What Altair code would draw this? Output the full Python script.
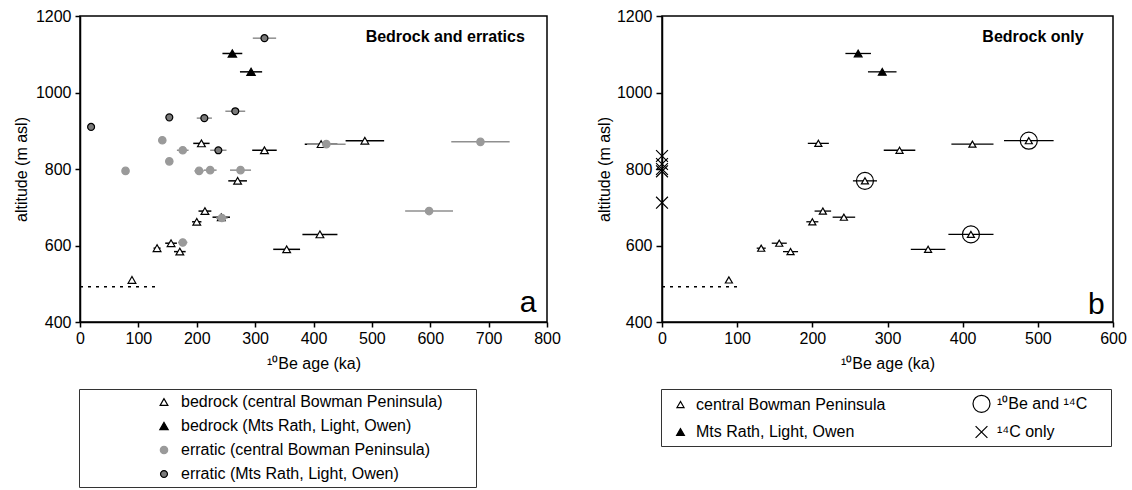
import altair as alt
import pandas as pd

# ---------------- data ----------------
# bedrock, central Bowman Peninsula (10Be age ka, altitude m, +/- error ka, has 14C)
bc_age = [89, 132, 156, 171, 200, 214, 208, 242, 270, 316, 354, 411, 413, 488]
bc_alt = [510, 593, 606, 584, 662, 690, 867, 674, 769, 849, 590, 629, 865, 874]
bc_err = [0, 6, 10, 10, 8, 11, 14, 15, 16, 21, 23, 30, 28, 33]
bc_c14 = [0, 0, 0, 0, 0, 0, 0, 0, 1, 0, 0, 1, 0, 1]
# bedrock, Mts Rath, Light, Owen
bm_age = [261, 293]
bm_alt = [1102, 1054]
bm_err = [17, 19]
# erratic, central Bowman Peninsula
ec_age = [78, 141, 153, 176, 176, 204, 223, 243, 275, 422, 598, 686]
ec_alt = [795, 875, 820, 849, 608, 795, 797, 672, 797, 865, 690, 871]
ec_err = [0, 6, 6, 10, 8, 8, 11, 10, 18, 33, 41, 50]
# erratic, Mts Rath, Light, Owen
em_age = [19, 153, 213, 237, 266, 316]
em_alt = [910, 935, 933, 849, 951, 1142]
em_err = [0, 0, 13, 14, 17, 20]
# 14C only (plotted at age 0)
c14_alt = [834, 813, 800, 794, 712]
# dotted reference line
ice_alt = 492
ice_left_x = [0, 132]
ice_right_x = [0, 100]

LEFT_CATS = [
    "bedrock (central Bowman Peninsula)",
    "bedrock (Mts Rath, Light, Owen)",
    "erratic (central Bowman Peninsula)",
    "erratic (Mts Rath, Light, Owen)",
]
# order: column 1 then column 2 of the legend
RIGHT_CATS = ["central Bowman Peninsula", "Mts Rath, Light, Owen", "¹⁰Be and ¹⁴C", "¹⁴C only"]
XPATH = "M-1,-1L1,1M-1,1L1,-1"
FONT = "Liberation Sans"
XTITLE = "¹⁰Be age (ka)"

# ---------------- tables ----------------
def rows(ages, alts, errs, cat, kind):
    return [dict(age=a, alt=h, lo=a - e, hi=a + e, err=e, cat=cat, kind=kind)
            for a, h, e in zip(ages, alts, errs)]

left_df = pd.DataFrame(
    rows(bc_age, bc_alt, bc_err, LEFT_CATS[0], "bedrock")
    + rows(bm_age, bm_alt, bm_err, LEFT_CATS[1], "bedrock")
    + rows(ec_age, ec_alt, ec_err, LEFT_CATS[2], "erratic")
    + rows(em_age, em_alt, em_err, LEFT_CATS[3], "erratic")
)

right_bars = pd.DataFrame(
    rows(bc_age, bc_alt, bc_err, RIGHT_CATS[0], "bedrock")
    + rows(bm_age, bm_alt, bm_err, RIGHT_CATS[1], "bedrock")
)
right_pts = pd.DataFrame(
    rows(bc_age, bc_alt, bc_err, RIGHT_CATS[0], "bedrock")
    + rows(bm_age, bm_alt, bm_err, RIGHT_CATS[1], "bedrock")
    + rows([a for a, f in zip(bc_age, bc_c14) if f], [h for h, f in zip(bc_alt, bc_c14) if f],
           [0] * sum(bc_c14), RIGHT_CATS[2], "c14")
    + rows([0] * len(c14_alt), c14_alt, [0] * len(c14_alt), RIGHT_CATS[3], "c14")
)

ice_left = pd.DataFrame({"x": [ice_left_x[0]], "x2": [ice_left_x[1]], "y": [ice_alt]})
ice_right = pd.DataFrame({"x": [ice_right_x[0]], "x2": [ice_right_x[1]], "y": [ice_alt]})

left_ann = pd.DataFrame({"x": [782], "y": [425], "t": ["a"]})
right_ann = pd.DataFrame({"x": [589], "y": [420], "t": ["b"]})
left_title = pd.DataFrame({"x": [762], "y": [1144], "t": ["Bedrock and erratics"]})
right_title = pd.DataFrame({"x": [561], "y": [1144], "t": ["Bedrock only"]})

H = 306

def xaxis(maxv):
    return alt.Axis(values=list(range(0, maxv + 1, 100)), title=XTITLE, grid=False,
                    labelFlush=False, labelOverlap=False, tickSize=5, labelPadding=3,
                    titlePadding=9)

def xscale(maxv):
    return alt.Scale(domain=[0, maxv], nice=False, zero=False)

yscale = alt.Scale(domain=[400, 1200], nice=False, zero=False)

def legend_common(**kw):
    base = dict(title="\u00a0", orient="none", legendX=-1, legendY=373, strokeColor="#333",
                labelFontSize=16, labelFont=FONT, labelLimit=600, rowPadding=8, padding=5,
                symbolStrokeWidth=1.2, titleOrient="right")
    base.update(kw)
    return alt.Legend(**base)

def oscale(domain, rng):
    return alt.Scale(type="ordinal", domain=domain, range=rng)

# ---------------- left panel ----------------
lleg = legend_common(symbolOffset=72, labelOffset=9, titlePadding=29)
lx = alt.X("age:Q", scale=xscale(800), axis=xaxis(800))
ly = alt.Y("alt:Q", scale=yscale,
           axis=alt.Axis(values=list(range(400, 1201, 100)), format="d", title="altitude (m asl)",
                         grid=False, tickSize=5, labelPadding=4, titlePadding=6))

l_bars_b = alt.Chart(left_df).transform_filter("datum.err > 0 && datum.kind == 'bedrock'").mark_rule(
    color="black", strokeWidth=1.5).encode(x=lx, x2="hi:Q", y=ly).transform_calculate(age="datum.lo")
l_bars_e = alt.Chart(left_df).transform_filter("datum.err > 0 && datum.kind == 'erratic'").mark_rule(
    color="#8f8f8f", strokeWidth=1.5).encode(x=lx, x2="hi:Q", y=ly).transform_calculate(age="datum.lo")
l_ice = alt.Chart(ice_left).mark_rule(color="black", strokeWidth=1.5, strokeDash=[3, 5]).encode(
    x=alt.X("x:Q", scale=xscale(800), axis=xaxis(800)), x2="x2:Q", y=alt.Y("y:Q", scale=yscale))
l_pts = alt.Chart(left_df).mark_point(opacity=1, strokeWidth=1.2).encode(
    x=lx, y=ly,
    shape=alt.Shape("cat:N", scale=oscale(LEFT_CATS, ["triangle-up", "triangle-up", "circle", "circle"]),
                    legend=lleg),
    fill=alt.Fill("cat:N", scale=oscale(LEFT_CATS, ["white", "black", "#9a9a9a", "#7a7a7a"]), legend=lleg),
    stroke=alt.Stroke("cat:N", scale=oscale(LEFT_CATS, ["black", "black", "#9a9a9a", "black"]), legend=lleg),
    size=alt.Size("cat:N", scale=oscale(LEFT_CATS, [60, 70, 55, 48]), legend=lleg),
)
l_lab = alt.Chart(left_ann).mark_text(align="right", baseline="alphabetic", fontSize=30,
                                      font=FONT, color="black").encode(
    x=alt.X("x:Q", scale=xscale(800)), y=alt.Y("y:Q", scale=yscale), text="t:N")
l_tit = alt.Chart(left_title).mark_text(align="right", baseline="middle", fontSize=16,
                                        fontWeight="bold", font=FONT, color="black").encode(
    x=alt.X("x:Q", scale=xscale(800)), y=alt.Y("y:Q", scale=yscale), text="t:N")

left = alt.layer(l_ice, l_bars_b, l_bars_e, l_pts, l_lab, l_tit).properties(width=467, height=H)

# ---------------- right panel ----------------
rleg = legend_common(columns=2, symbolOffset=5, labelOffset=6, columnPadding=81, titlePadding=19)
rx = alt.X("age:Q", scale=xscale(600), axis=xaxis(600))
ry = alt.Y("alt:Q", scale=yscale,
           axis=alt.Axis(values=list(range(400, 1201, 50)), format="d", title="altitude (m asl)", grid=False,
                         labelExpr="datum.value % 100 === 0 ? datum.label : ''",
                         tickSize={"condition": {"test": "datum.value % 100 === 0", "value": 6}, "value": 3},
                         labelPadding=4, titlePadding=4))

r_bars = alt.Chart(right_bars).transform_filter("datum.err > 0").mark_rule(
    color="black", strokeWidth=1.3).encode(x=rx, x2="hi:Q", y=ry).transform_calculate(age="datum.lo")
r_ice = alt.Chart(ice_right).mark_rule(color="black", strokeWidth=1.5, strokeDash=[3, 5]).encode(
    x=alt.X("x:Q", scale=xscale(600), axis=xaxis(600)), x2="x2:Q", y=alt.Y("y:Q", scale=yscale))
r_pts = alt.Chart(right_pts).mark_point(opacity=1, strokeWidth=1.2).encode(
    x=rx, y=ry,
    shape=alt.Shape("cat:N", scale=oscale(RIGHT_CATS, ["triangle-up", "triangle-up", "circle", XPATH]),
                    legend=rleg),
    fill=alt.Fill("cat:N", scale=oscale(RIGHT_CATS, ["white", "black", "transparent", "transparent"]),
                  legend=rleg),
    stroke=alt.Stroke("cat:N", scale=oscale(RIGHT_CATS, ["black", "black", "black", "black"]), legend=rleg),
    size=alt.Size("cat:N", scale=oscale(RIGHT_CATS, [50, 60, 289, 140]), legend=rleg),
)
r_lab = alt.Chart(right_ann).mark_text(align="right", baseline="alphabetic", fontSize=30,
                                       font=FONT, color="black").encode(
    x=alt.X("x:Q", scale=xscale(600)), y=alt.Y("y:Q", scale=yscale), text="t:N")
r_tit = alt.Chart(right_title).mark_text(align="right", baseline="middle", fontSize=16,
                                         fontWeight="bold", font=FONT, color="black").encode(
    x=alt.X("x:Q", scale=xscale(600)), y=alt.Y("y:Q", scale=yscale), text="t:N")

right = alt.layer(r_ice, r_bars, r_pts, r_lab, r_tit).properties(width=451, height=H)

chart = alt.hconcat(left, right, spacing=33).resolve_scale(
    x="independent", shape="independent", fill="independent", stroke="independent", size="independent"
).resolve_legend(shape="independent", fill="independent", stroke="independent", size="independent"
).properties(padding={"left": 12, "top": 7, "right": 0, "bottom": 0}, background="white"
).configure_view(stroke="black", strokeWidth=1.5
).configure_axis(domainColor="black", domainWidth=1.5, tickColor="black", tickWidth=1.5,
                 labelColor="black", titleColor="black", labelFont=FONT, titleFont=FONT,
                 labelFontSize=16, titleFontSize=16, titleFontWeight="normal"
).configure_text(font=FONT)

chart.save("out.html", embed_options={"renderer": "svg", "actions": False})
